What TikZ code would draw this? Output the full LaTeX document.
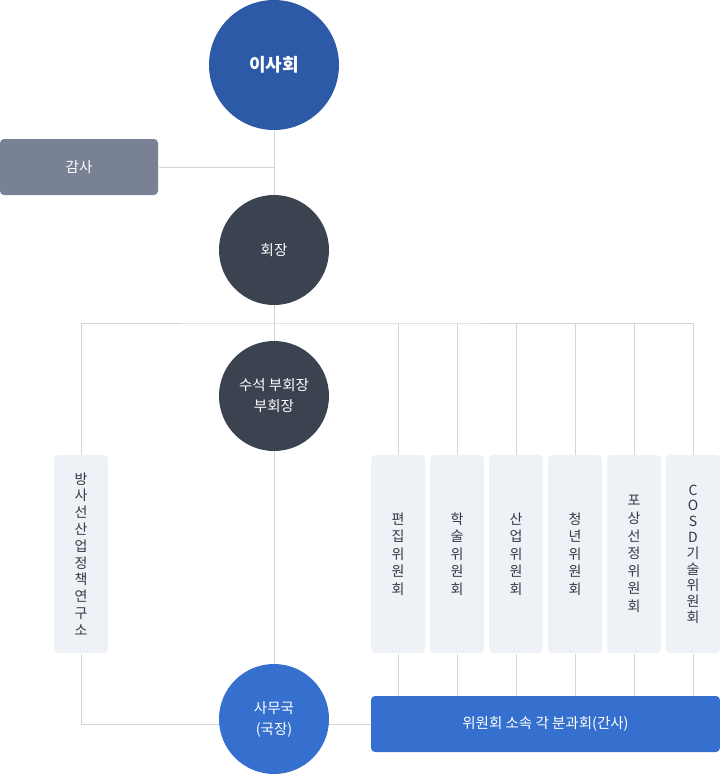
\documentclass[tikz,border=0pt]{standalone}
\usepackage{fontspec}
\setmainfont{Noto Sans CJK KR}
\usepackage{xcolor}
\usetikzlibrary{backgrounds}

\definecolor{boardblue}{HTML}{2D5AA6}
\definecolor{officeblue}{HTML}{3670CE}
\definecolor{audgray}{HTML}{788294}
\definecolor{darkslate}{HTML}{3C4350}
\definecolor{paleblue}{HTML}{EEF1F6}
\definecolor{linegray}{HTML}{D5D5D5}
\definecolor{textdark}{HTML}{333A45}

\begin{document}
\begin{tikzpicture}[
    x=1pt, y=-1pt,
    line width=1pt,
    big node/.style={circle, fill=boardblue, text=white, minimum size=130pt, inner sep=0pt, font=\fontsize{18}{22}\selectfont\bfseries},
    head node/.style={circle, fill=darkslate, text=white, minimum size=110pt, inner sep=0pt, align=center, font=\fontsize{14.5}{21}\selectfont},
    office node/.style={circle, fill=officeblue, text=white, minimum size=110pt, inner sep=0pt, align=center, font=\fontsize{14.5}{21}\selectfont},
    audit node/.style={rectangle, rounded corners=4pt, fill=audgray, text=white, minimum width=158pt, minimum height=56pt, inner sep=0pt, font=\fontsize{14.5}{18}\selectfont},
    comm node/.style={rectangle, rounded corners=4pt, fill=paleblue, text=textdark, minimum width=54pt, minimum height=198pt, inner sep=0pt, align=center, font=\fontsize{14}{17.6}\selectfont},
    sub node/.style={rectangle, rounded corners=4pt, fill=officeblue, text=white, minimum width=349pt, minimum height=56pt, inner sep=0pt, font=\fontsize{14.5}{18}\selectfont},
    link/.style={draw=linegray}
]
    \useasboundingbox (0,0) rectangle (720,774);

    % Top
    \node[big node] (board) at (274, 65) {이사회};
    \node[audit node] (audit) at (79, 167) {감사};
    \node[head node] (chair) at (274, 250) {회장};
    \node[head node] (vice) at (274, 396) {수석 부회장\\부회장};

    % Institute and committees
    \node[comm node, font=\fontsize{14}{16.8}\selectfont] (inst) at (81, 554) {방\\사\\선\\산\\업\\정\\책\\연\\구\\소};
    \node[comm node] (edit) at (398, 554) {편\\집\\위\\원\\회};
    \node[comm node] (acad) at (457, 554) {학\\술\\위\\원\\회};
    \node[comm node] (indu) at (516, 554) {산\\업\\위\\원\\회};
    \node[comm node] (youth) at (575, 554) {청\\년\\위\\원\\회};
    \node[comm node] (award) at (634, 554) {포\\상\\선\\정\\위\\원\\회};
    \node[comm node, font=\fontsize{14}{15.9}\selectfont] (cosd) at (693, 554) {C\\O\\S\\D\\기\\술\\위\\원\\회};

    % Bottom
    \node[office node] (office) at (274, 719) {사무국\\(국장)};
    \node[sub node] (sub) at (545.5, 724) {위원회 소속 각 분과회(간사)};

    \coordinate (bus) at (274, 323);

    % Edges
    \begin{scope}[on background layer]
        \draw[link] (board) -- (office);
        \draw[link] (audit.east) -- (audit.east -| board);
        \draw[link] (inst.north) |- (bus) -| (cosd.north);
        \foreach \c in {edit, acad, indu, youth, award}
            \draw[link] (\c.north) -- (\c.north |- bus);
        \foreach \c in {edit, acad, indu, youth, award, cosd}
            \draw[link] (\c.south) -- (\c.south |- sub.north);
        \draw[link] (inst.south) |- (sub.west);
    \end{scope}
\end{tikzpicture}
\end{document}
